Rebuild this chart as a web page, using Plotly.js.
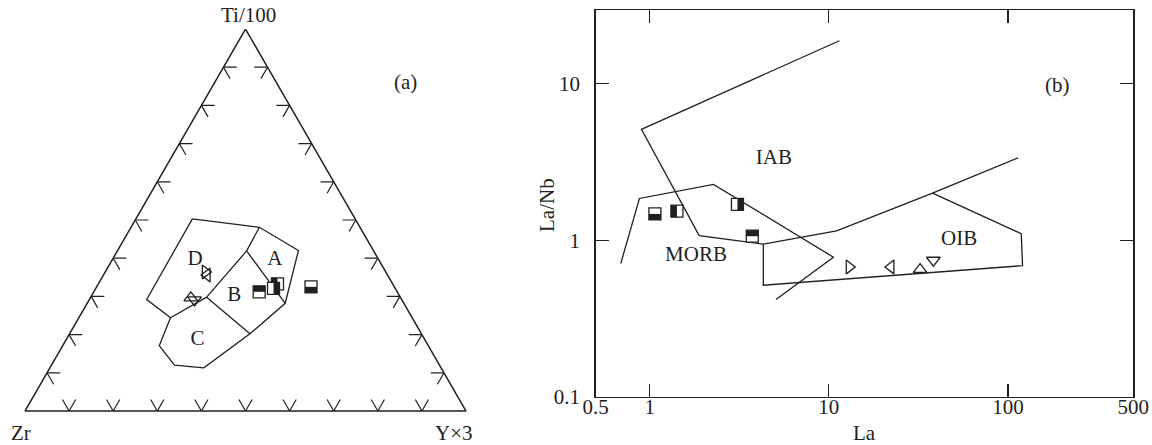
<!DOCTYPE html>
<html><head><meta charset="utf-8">
<script src="https://cdn.plot.ly/plotly-3.0.1.min.js"></script>
<style>html,body{margin:0;padding:0;background:#fff}</style>
</head><body>
<div id="chart" style="width:1152px;height:445px"></div>
<script>
// ===== Panel (a): Ti/100 – Zr – Y×3 (values in %, order [Ti/100, Zr, Y×3]) =====
const fieldOutline = [[50.3,36.9,12.8],[48.1,22.8,29.1],[42.0,17.0,41.0],[28.2,26.9,44.9],[20.2,38.9,40.9],[11.3,53.8,34.9],[12.0,60.1,27.9],[17.1,61.0,21.9],[24.4,54.8,20.8],[29.2,57.8,13.0],[50.3,36.9,12.8]];
const lineAB = [[48.1,22.8,29.1],[41.9,28.8,29.3],[28.2,26.9,44.9]];
const lineBD = [[41.9,28.8,29.3],[29.8,43.9,26.3]];
const lineCD = [[29.8,43.9,26.3],[24.4,54.8,20.8]];
const lineBC = [[29.8,43.9,26.3],[20.2,38.9,40.9]];
const fieldNames = ['A','B','C','D'];
const fieldLabelPos = [[39.7,23.5,36.8],[30.1,37.5,32.4],[18.6,51.6,29.8],[39.7,41.6,18.7]];
const ternTicks = [10,20,30,40,50,60,70,80,90];
const ternTickLen = 3;

// samples: four shown as half-filled squares (filled half: bottom, left, right, top), four as open triangles
const squareFilledHalf = ['bottom','left','right','top'];
const squareTern = [[32.5,18.9,48.6],[33.3,26.1,40.6],[32.1,27.6,40.3],[31.2,31.3,37.5]];
const triSymbols = ['triangle-right-open','triangle-left-open','triangle-up-open','triangle-down-open'];
const triTern = [[36.4,40.9,22.7],[35.6,40.9,23.5],[29.6,47.6,22.8],[29.1,47.0,23.9]];

// ===== Panel (b): La vs La/Nb =====
const squareLa = [1.07,1.42,3.09,3.74];
const squareLaNb = [1.47,1.53,1.69,1.06];
const triLa = [13.0,22.2,32.3,38.3];
const triLaNb = [0.675,0.675,0.65,0.745];
const iabLine = [[11.46,18.7],[0.90,5.09],[1.89,1.07],[4.31,0.943],[11.04,1.145],[37.9,1.995],[113.7,3.35]];
const oibLine = [[4.31,0.943],[4.31,0.516],[120.5,0.688],[118.5,1.10],[37.9,1.995]];
const morbLine = [[0.69,0.71],[0.877,1.845],[2.27,2.27],[10.6,0.779],[5.07,0.418]];
const fieldNamesB = ['IAB','MORB','OIB'];
const fieldLabelLa = [4.94,1.815,53.3];
const fieldLabelLaNb = [3.29,0.80,1.01];
const xTicks = [0.5,1,10,100,500];
const yTicks = [0.1,1,10];

const INK = '#231f20';
const SERIF = 'Liberation Serif, Times New Roman, serif';
const SQ = 12;
// marker standoff pushes a symbol away from the side its angle points to
const bandAngle = {top:180, bottom:0, left:90, right:-90};
const traces = [];

function ternLine(pts, w) {
  return {type:'scatterternary', mode:'lines', a:pts.map(p=>p[0]), b:pts.map(p=>p[1]), c:pts.map(p=>p[2]),
    line:{color:INK, width:w||1.3}, hoverinfo:'skip', showlegend:false, cliponaxis:false};
}
[fieldOutline, lineAB, lineBD, lineCD, lineBC].forEach(p => traces.push(ternLine(p)));

// ternary tick marks: short segments along both grid directions at each tick
const tA=[], tB=[], tC=[];
function seg(p,q){ tA.push(p[0],q[0],null); tB.push(p[1],q[1],null); tC.push(p[2],q[2],null); }
ternTicks.forEach(t => {
  const L = ternTickLen;
  seg([t,100-t,0],[t,100-t-L,L]);      // left side
  seg([t,100-t,0],[t-L,100-t,L]);
  seg([0,100-t,t],[L,100-t-L,t]);      // bottom side
  seg([0,100-t,t],[L,100-t,t-L]);
  seg([t,0,100-t],[t,L,100-t-L]);      // right side
  seg([t,0,100-t],[t-L,L,100-t]);
});
traces.push({type:'scatterternary', mode:'lines', a:tA, b:tB, c:tC, connectgaps:false,
  line:{color:INK, width:1.2}, hoverinfo:'skip', showlegend:false});

traces.push({type:'scatterternary', mode:'text', a:fieldLabelPos.map(p=>p[0]), b:fieldLabelPos.map(p=>p[1]), c:fieldLabelPos.map(p=>p[2]),
  text:fieldNames, textfont:{family:SERIF, size:21, color:INK}, hoverinfo:'skip', showlegend:false});

traces.push({type:'scatterternary', mode:'markers', a:triTern.map(p=>p[0]), b:triTern.map(p=>p[1]), c:triTern.map(p=>p[2]),
  marker:{symbol:triSymbols, size:12, color:INK, line:{width:1.3, color:INK}}, hoverinfo:'skip', showlegend:false});

// half-filled squares: white square + thick black half band (line symbols are 1.4x their size)
function halfSquares(type, coordsFor, n) {
  for (let i = 0; i < n; i++) {
    const base = Object.assign({type, mode:'markers', hoverinfo:'skip', showlegend:false, cliponaxis:false}, coordsFor(i));
    traces.push(Object.assign({}, base, {marker:{symbol:'square', size:SQ, color:'#fff', line:{width:1.3, color:INK}}}));
    traces.push(Object.assign({}, base, {marker:{symbol:'line-ew', size:SQ/1.4, color:INK, angle:bandAngle[squareFilledHalf[i]],
      standoff:SQ/4, line:{width:SQ/2, color:INK}}}));
  }
}
halfSquares('scatterternary', i => ({a:[squareTern[i][0]], b:[squareTern[i][1]], c:[squareTern[i][2]]}), squareTern.length);

// panel b
function xyLine(pts){
  return {type:'scatter', mode:'lines', x:pts.map(p=>p[0]), y:pts.map(p=>p[1]), xaxis:'x', yaxis:'y',
    line:{color:INK, width:1.3}, hoverinfo:'skip', showlegend:false};
}
[iabLine, oibLine, morbLine].forEach(p => traces.push(xyLine(p)));
traces.push({type:'scatter', mode:'text', x:fieldLabelLa, y:fieldLabelLaNb, text:fieldNamesB,
  textfont:{family:SERIF, size:21, color:INK}, hoverinfo:'skip', showlegend:false});
traces.push({type:'scatter', mode:'markers', x:triLa, y:triLaNb,
  marker:{symbol:triSymbols, size:12, color:INK, line:{width:1.3, color:INK}}, hoverinfo:'skip', showlegend:false});
halfSquares('scatter', i => ({x:[squareLa[i]], y:[squareLaNb[i]]}), squareLa.length);

const ternAxis = {showline:true, linecolor:INK, linewidth:1.5, showgrid:false, showticklabels:false, ticks:'', title:{text:''}};
function ann(text, x, y, extra){ return Object.assign({text, x, y, xref:'paper', yref:'paper', showarrow:false,
  xanchor:'center', yanchor:'middle', font:{family:SERIF, size:21, color:INK}}, extra||{}); }

const layout = {
  width:1152, height:445, margin:{l:0,r:0,t:0,b:0}, paper_bgcolor:'#fff', plot_bgcolor:'#fff',
  showlegend:false, hovermode:false,
  ternary:{sum:100, domain:{x:[0.00311,0.42311], y:[0.07640,0.93483]}, bgcolor:'rgba(0,0,0,0)',
    aaxis:ternAxis, baxis:ternAxis, caxis:ternAxis},
  xaxis:{domain:[0.51710,0.98377], type:'log', range:[Math.log10(0.5), Math.log10(500)],
    tickvals:xTicks, ticktext:xTicks.map(String), ticks:'inside', ticklen:13, tickwidth:1.3, tickcolor:INK,
    showline:true, linecolor:INK, linewidth:1.5, mirror:'ticks', showgrid:false, zeroline:false,
    ticklabelstandoff:-10, tickfont:{family:SERIF, size:21, color:INK}},
  yaxis:{domain:[0.10787,0.97685], type:'log', range:[-1, 1.466],
    tickvals:yTicks, ticktext:['0.1','1','10'], ticks:'inside', ticklen:13, tickwidth:1.3, tickcolor:INK,
    showline:true, linecolor:INK, linewidth:1.5, mirror:'ticks', showgrid:false, zeroline:false,
    ticklabelstandoff:10, tickfont:{family:SERIF, size:21, color:INK}},
  annotations:[
    ann('Ti/100', 248/1152, 1-15/445),
    ann('Zr', 21/1152, 1-433/445),
    ann('Y\u00D73', 454/1152, 1-433/445),
    ann('(a)', 405/1152, 1-82/445),
    ann('(b)', 1057/1152, 1-85/445),
    ann('La', 864/1152, 1-433/445),
    ann('La/Nb', 547/1152, 1-205/445, {textangle:-90})
  ]
};
Plotly.newPlot('chart', traces, layout, {staticPlot:true, displayModeBar:false});
</script>
</body></html>
